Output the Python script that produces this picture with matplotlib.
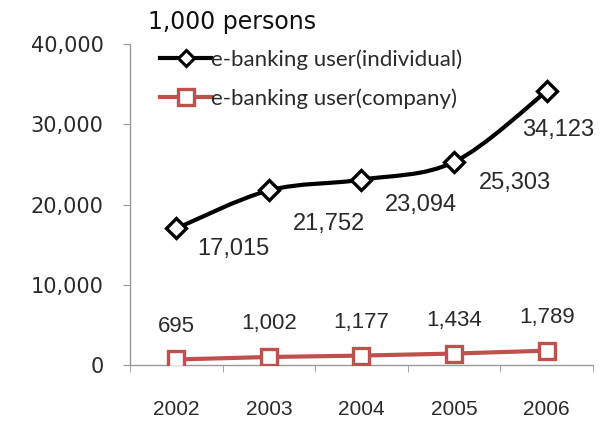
import numpy as np
import matplotlib
matplotlib.use("Agg")
import matplotlib.pyplot as plt
from matplotlib.path import Path
from matplotlib.patches import PathPatch

years = ["2002", "2003", "2004", "2005", "2006"]
individual = [17015, 21752, 23094, 25303, 34123]
company = [695, 1002, 1177, 1434, 1789]

# label offsets in points (style only)
ind_offsets = [(41, -15), (43, -24), (43, -18), (44, -15), (8, -28)]

BLACK = "#000000"
RED = "#c0504d"
TXT = "#2a2a2a"


def smooth_path(xs, ys, t=1 / 6):
    # catmull-rom style bezier through the data points (like Excel smoothed line)
    pts = np.column_stack([xs, ys]).astype(float)
    verts = [pts[0]]
    codes = [Path.MOVETO]
    n = len(pts)
    for i in range(n - 1):
        p0 = pts[max(i - 1, 0)]
        p1 = pts[i]
        p2 = pts[i + 1]
        p3 = pts[min(i + 2, n - 1)]
        c1 = p1 + (p2 - p0) * t
        c2 = p2 - (p3 - p1) * t
        verts += [c1, c2, p2]
        codes += [Path.CURVE4] * 3
    return Path(verts, codes)


fig = plt.figure(figsize=(6.07, 4.23), dpi=100)
ax = fig.add_axes([0.214, 0.137, 0.763, 0.759])

x = np.arange(len(years))

ax.add_patch(PathPatch(smooth_path(x, individual), facecolor="none",
                       edgecolor=BLACK, lw=3, zorder=3))
ax.plot(x, individual, ls="none", marker="D", ms=10, mfc="white", mec=BLACK,
        mew=2.4, zorder=4)
ax.plot([], [], color=BLACK, lw=3, marker="D", ms=8, mfc="white", mec=BLACK,
        mew=2.2, label="e-banking user(individual)")

ax.plot(x, company, color=RED, lw=3, marker="s", ms=12, mfc="white",
        mec=RED, mew=2.4, zorder=4, label="e-banking user(company)")

for xi, v, off in zip(x, individual, ind_offsets):
    ax.annotate(f"{v:,}", (xi, v), xytext=off, textcoords="offset points",
                ha="center", va="center", fontsize=17, color=TXT,
                family="Liberation Sans")
for xi, v in zip(x, company):
    ax.annotate(f"{v:,}", (xi, v), xytext=(0, 24), textcoords="offset points",
                ha="center", va="center", fontsize=16, color=TXT,
                family="Liberation Sans")

ax.set_xlim(-0.5, len(years) - 0.5)
ax.set_ylim(0, 40000)
yt = [0, 10000, 20000, 30000, 40000]
ax.set_yticks(yt)
ax.set_yticklabels([f"{v:,}" for v in yt])
ax.set_xticks(x)
ax.set_xticklabels(years)
ax.set_xticks(np.arange(len(years) + 1) - 0.5, minor=True)
ax.tick_params(axis="x", which="major", length=0, pad=25)
ax.tick_params(axis="x", which="minor", length=5, color="#999999")
ax.tick_params(axis="y", length=5, color="#999999", pad=14)
for lab in ax.get_yticklabels():
    lab.set_family("DejaVu Sans")
    lab.set_fontsize(15)
    lab.set_color(TXT)
for lab in ax.get_xticklabels():
    lab.set_family("Liberation Sans")
    lab.set_fontsize(15)
    lab.set_color(TXT)

for s in ["top", "right"]:
    ax.spines[s].set_visible(False)
for s in ["left", "bottom"]:
    ax.spines[s].set_color("#999999")
    ax.spines[s].set_linewidth(1)

leg = ax.legend(loc="upper left", bbox_to_anchor=(160 / 607, 1 - 49 / 423),
                bbox_transform=fig.transFigure, frameon=False,
                prop={"family": "Lato", "size": 16}, handlelength=2.3,
                handletextpad=0.0, labelspacing=0.85, borderpad=0,
                borderaxespad=0)
for t in leg.get_texts():
    t.set_color(TXT)

fig.text(148 / 607, 1 - 22 / 423, "1,000 persons", fontsize=17,
         family="DejaVu Sans", ha="left", va="center", color="#111111")

fig.savefig("out.png", dpi=100)
